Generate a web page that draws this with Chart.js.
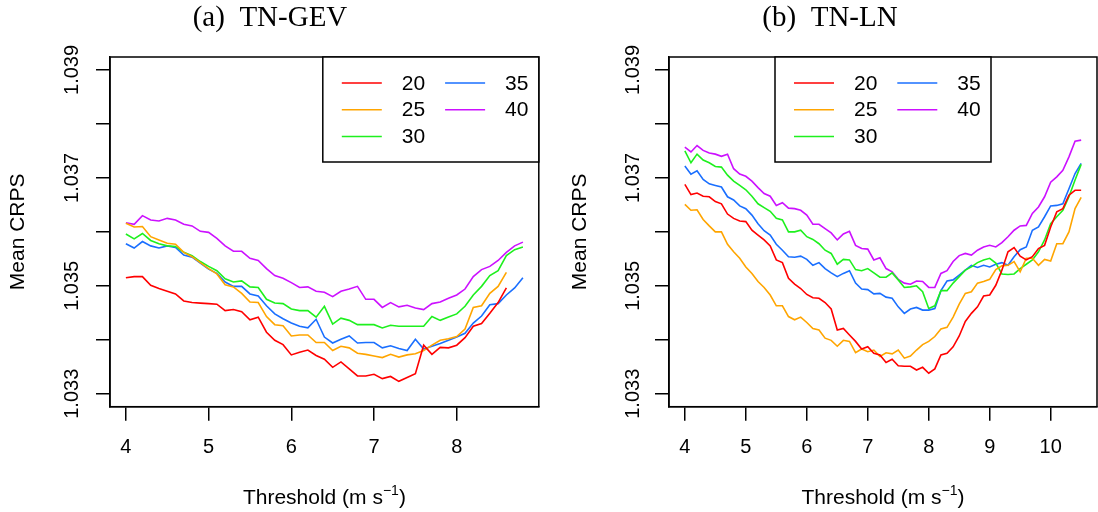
<!DOCTYPE html>
<html>
<head>
<meta charset="utf-8">
<title>Mean CRPS by threshold</title>
<script src="https://cdn.jsdelivr.net/npm/chart.js@4.4.1/dist/chart.umd.min.js"></script>
<style>
  html, body { margin: 0; padding: 0; background: #fff; }
  #wrap { position: relative; width: 1098px; height: 512px; }
  #wrap canvas { position: absolute; top: 0; }
</style>
</head>
<body>
<div id="wrap">
  <canvas id="gev" width="549" height="512" style="left:0"></canvas>
  <canvas id="ln" width="549" height="512" style="left:549px"></canvas>
</div>
<script>
// thresholds (m/s) shared by both panels
const thresholds = [
  4.0, 4.1, 4.2, 4.3, 4.4, 4.5, 4.6, 4.7, 4.8, 4.9,
  5.0, 5.1, 5.2, 5.3, 5.4, 5.5, 5.6, 5.7, 5.8, 5.9,
  6.0, 6.1, 6.2, 6.3, 6.4, 6.5, 6.6, 6.7, 6.8, 6.9,
  7.0, 7.1, 7.2, 7.3, 7.4, 7.5, 7.6, 7.7, 7.8, 7.9,
  8.0, 8.1, 8.2, 8.3, 8.4, 8.5, 8.6, 8.7, 8.8, 8.9,
  9.0, 9.1, 9.2, 9.3, 9.4, 9.5, 9.6, 9.7, 9.8, 9.9,
  10.0, 10.1, 10.2, 10.3, 10.4, 10.5
];
const seriesNames = ['20', '25', '30', '35', '40'];
const seriesColours = ['#ff0000', '#ffa500', '#1ef01e', '#1a6fff', '#cc11ff'];
const yLimits = [1.033, 1.039];
const yTicks = [1.033, 1.034, 1.035, 1.036, 1.037, 1.038, 1.039];
const yLabelled = [1.033, 1.035, 1.037, 1.039];
const xTicksGev = [4, 5, 6, 7, 8];
const xTicksLn = [4, 5, 6, 7, 8, 9, 10];

// (a) TN-GEV
const gev20 = [
  1.03515, 1.03517, 1.03517, 1.03501, 1.03495, 1.03490, 1.03485, 1.03472, 1.03469, 1.03468,
  1.03467, 1.03466, 1.03454, 1.03456, 1.03452, 1.03437, 1.03442, 1.03414, 1.03399, 1.03391,
  1.03372, 1.03377, 1.03381, 1.03371, 1.03364, 1.03349, 1.03359, 1.03346, 1.03333, 1.03333,
  1.03336, 1.03328, 1.03332, 1.03323, 1.03330, 1.03337, 1.03390, 1.03373, 1.03386, 1.03385,
  1.03390, 1.03404, 1.03425, 1.03430, 1.03449, 1.03469, 1.03496
];
const gev25 = [
  1.03616, 1.03609, 1.03610, 1.03591, 1.03585, 1.03579, 1.03577, 1.03562, 1.03554, 1.03543,
  1.03532, 1.03522, 1.03502, 1.03498, 1.03486, 1.03470, 1.03469, 1.03443, 1.03428, 1.03426,
  1.03407, 1.03409, 1.03409, 1.03395, 1.03395, 1.03380, 1.03388, 1.03385, 1.03375, 1.03373,
  1.03370, 1.03367, 1.03373, 1.03368, 1.03372, 1.03374, 1.03380, 1.03390, 1.03399, 1.03402,
  1.03406, 1.03420, 1.03460, 1.03463, 1.03486, 1.03499, 1.03525
];
const gev30 = [
  1.03596, 1.03587, 1.03597, 1.03584, 1.03578, 1.03574, 1.03573, 1.03562, 1.03556, 1.03545,
  1.03536, 1.03528, 1.03513, 1.03507, 1.03509, 1.03498, 1.03497, 1.03475, 1.03468, 1.03467,
  1.03457, 1.03454, 1.03454, 1.03442, 1.03462, 1.03429, 1.03440, 1.03436, 1.03428, 1.03428,
  1.03428, 1.03422, 1.03427, 1.03425, 1.03425, 1.03425, 1.03425, 1.03443, 1.03436, 1.03442,
  1.03448, 1.03462, 1.03483, 1.03499, 1.03519, 1.03528, 1.03556, 1.03567, 1.03572
];
const gev35 = [
  1.03578, 1.03570, 1.03582, 1.03574, 1.03570, 1.03574, 1.03571, 1.03557, 1.03553, 1.03542,
  1.03531, 1.03523, 1.03507, 1.03499, 1.03499, 1.03485, 1.03481, 1.03463, 1.03448, 1.03439,
  1.03431, 1.03425, 1.03422, 1.03438, 1.03405, 1.03394, 1.03401, 1.03407, 1.03394, 1.03395,
  1.03395, 1.03385, 1.03389, 1.03384, 1.03380, 1.03401, 1.03383, 1.03388, 1.03393, 1.03399,
  1.03405, 1.03412, 1.03431, 1.03444, 1.03465, 1.03467, 1.03483, 1.03496, 1.03515
];
const gev40 = [
  1.03617, 1.03614, 1.03630, 1.03622, 1.03620, 1.03625, 1.03622, 1.03614, 1.03611, 1.03601,
  1.03599, 1.03588, 1.03574, 1.03564, 1.03564, 1.03551, 1.03547, 1.03532, 1.03519, 1.03514,
  1.03506, 1.03497, 1.03498, 1.03490, 1.03488, 1.03480, 1.03490, 1.03494, 1.03499, 1.03475,
  1.03475, 1.03460, 1.03469, 1.03461, 1.03464, 1.03459, 1.03456, 1.03467, 1.03470, 1.03477,
  1.03483, 1.03494, 1.03517, 1.03530, 1.03536, 1.03547, 1.03562, 1.03574, 1.03581
];

// (b) TN-LN
const ln20 = [
  1.03688, 1.03669, 1.03672, 1.03666, 1.03665, 1.03656, 1.03652, 1.03633, 1.03625, 1.03620,
  1.03619, 1.03603, 1.03594, 1.03585, 1.03574, 1.03548, 1.03543, 1.03514, 1.03503, 1.03495,
  1.03484, 1.03478, 1.03477, 1.03469, 1.03457, 1.03418, 1.03421, 1.03409, 1.03397, 1.03383,
  1.03387, 1.03375, 1.03372, 1.03358, 1.03364, 1.03352, 1.03351, 1.03351, 1.03344, 1.03349,
  1.03338, 1.03346, 1.03372, 1.03375, 1.03387, 1.03407, 1.03434, 1.03449, 1.03461, 1.03481,
  1.03483, 1.03501, 1.03529, 1.03563, 1.03571, 1.03555, 1.03548, 1.03554, 1.03569, 1.03575,
  1.03609, 1.03637, 1.03643, 1.03668, 1.03677, 1.03677
];
const ln25 = [
  1.03651, 1.03640, 1.03641, 1.03623, 1.03611, 1.03600, 1.03600, 1.03577, 1.03563, 1.03551,
  1.03535, 1.03523, 1.03508, 1.03497, 1.03483, 1.03463, 1.03463, 1.03443, 1.03437, 1.03442,
  1.03432, 1.03421, 1.03418, 1.03403, 1.03399, 1.03388, 1.03399, 1.03397, 1.03376, 1.03383,
  1.03378, 1.03381, 1.03369, 1.03376, 1.03374, 1.03381, 1.03366, 1.03370, 1.03381, 1.03391,
  1.03397, 1.03406, 1.03420, 1.03423, 1.03442, 1.03466, 1.03486, 1.03489, 1.03505, 1.03508,
  1.03512, 1.03530, 1.03537, 1.03538, 1.03545, 1.03526, 1.03551, 1.03551, 1.03538, 1.03549,
  1.03546, 1.03578, 1.03578, 1.03600, 1.03643, 1.03664
];
const ln30 = [
  1.03750, 1.03728, 1.03744, 1.03733, 1.03728, 1.03721, 1.03720, 1.03705, 1.03694, 1.03686,
  1.03678, 1.03666, 1.03652, 1.03645, 1.03638, 1.03625, 1.03622, 1.03600, 1.03600, 1.03603,
  1.03591, 1.03586, 1.03578, 1.03566, 1.03560, 1.03540, 1.03549, 1.03548, 1.03530, 1.03528,
  1.03532, 1.03524, 1.03516, 1.03516, 1.03524, 1.03511, 1.03497, 1.03498, 1.03500, 1.03489,
  1.03458, 1.03463, 1.03491, 1.03491, 1.03505, 1.03517, 1.03529, 1.03535, 1.03543, 1.03548,
  1.03551, 1.03542, 1.03522, 1.03521, 1.03522, 1.03532, 1.03540, 1.03548, 1.03563, 1.03585,
  1.03615, 1.03628, 1.03640, 1.03665, 1.03696, 1.03725
];
const ln35 = [
  1.03722, 1.03707, 1.03713, 1.03697, 1.03689, 1.03686, 1.03683, 1.03665, 1.03659, 1.03648,
  1.03643, 1.03631, 1.03615, 1.03602, 1.03594, 1.03577, 1.03566, 1.03554, 1.03553, 1.03555,
  1.03549, 1.03538, 1.03543, 1.03532, 1.03524, 1.03517, 1.03523, 1.03528, 1.03505, 1.03494,
  1.03493, 1.03485, 1.03486, 1.03479, 1.03477, 1.03461, 1.03449, 1.03457, 1.03460, 1.03455,
  1.03455, 1.03458, 1.03491, 1.03509, 1.03511, 1.03520, 1.03529, 1.03538, 1.03534, 1.03538,
  1.03535, 1.03540, 1.03543, 1.03538, 1.03554, 1.03567, 1.03572, 1.03603, 1.03609, 1.03628,
  1.03648, 1.03649, 1.03652, 1.03680, 1.03708, 1.03727
];
const ln40 = [
  1.03757, 1.03748, 1.03760, 1.03751, 1.03746, 1.03744, 1.03740, 1.03744, 1.03717, 1.03707,
  1.03703, 1.03694, 1.03682, 1.03671, 1.03666, 1.03649, 1.03654, 1.03644, 1.03643, 1.03640,
  1.03631, 1.03614, 1.03614, 1.03606, 1.03598, 1.03585, 1.03596, 1.03601, 1.03575, 1.03569,
  1.03568, 1.03548, 1.03552, 1.03532, 1.03526, 1.03512, 1.03505, 1.03503, 1.03509, 1.03508,
  1.03497, 1.03497, 1.03523, 1.03528, 1.03545, 1.03556, 1.03560, 1.03557, 1.03566, 1.03572,
  1.03575, 1.03572, 1.03580, 1.03591, 1.03603, 1.03611, 1.03612, 1.03634, 1.03646, 1.03665,
  1.03692, 1.03702, 1.03714, 1.03739, 1.03768, 1.03770
];

const SANS = '"Liberation Sans", Arial, Helvetica, sans-serif';
const SERIF = '"Liberation Serif", "Times New Roman", serif';

// R-style frame, rotated y labels, titles and boxed legend
const decorations = {
  id: 'decorations',
  afterDraw(chart, args, o) {
    const { ctx, chartArea: a } = chart;
    const ys = chart.scales.y;
    ctx.save();
    ctx.strokeStyle = '#000';
    ctx.lineWidth = 1.5;
    ctx.strokeRect(a.left, a.top, a.right - a.left, a.bottom - a.top);

    ctx.fillStyle = '#000';
    ctx.textAlign = 'center';
    ctx.textBaseline = 'middle';
    ctx.font = '20px ' + SANS;
    yLabelled.forEach(v => {
      ctx.save();
      ctx.translate(a.left - o.yLabelGap, ys.getPixelForValue(v));
      ctx.rotate(-Math.PI / 2);
      ctx.fillText(v.toFixed(3), 0, 0);
      ctx.restore();
    });

    ctx.font = '21px ' + SANS;
    ctx.save();
    ctx.translate(a.left - o.yTitleGap, (a.top + a.bottom) / 2);
    ctx.rotate(-Math.PI / 2);
    ctx.fillText('Mean CRPS', 0, 0);
    ctx.restore();

    // x title with superscript unit
    const main = 'Threshold (m s', sup = '\u22121', tail = ')';
    ctx.textBaseline = 'alphabetic';
    ctx.textAlign = 'left';
    ctx.font = '21px ' + SANS;
    const w1 = ctx.measureText(main).width, w3 = ctx.measureText(tail).width;
    ctx.font = '14px ' + SANS;
    const w2 = ctx.measureText(sup).width;
    let x = (a.left + a.right) / 2 - (w1 + w2 + w3) / 2;
    const base = 504;
    ctx.font = '21px ' + SANS;
    ctx.fillText(main, x, base);
    ctx.font = '14px ' + SANS;
    ctx.fillText(sup, x + w1, base - 9);
    ctx.font = '21px ' + SANS;
    ctx.fillText(tail, x + w1 + w2, base);

    ctx.textAlign = 'center';
    ctx.font = '29px ' + SERIF;
    ctx.fillText(o.title, o.titleX, 26);

    // legend box
    const lw = 216, lh = 105;
    const lx = o.legendPos === 'topright' ? a.right - lw : (a.left + a.right) / 2 - lw / 2;
    const ly = a.top;
    ctx.fillStyle = '#fff';
    ctx.fillRect(lx, ly, lw, lh);
    ctx.strokeStyle = '#000';
    ctx.lineWidth = 1.5;
    ctx.strokeRect(lx, ly, lw, lh);
    ctx.font = '21px ' + SANS;
    ctx.textBaseline = 'middle';
    ctx.textAlign = 'left';
    chart.data.datasets.forEach((ds, i) => {
      const col = i < 3 ? 0 : 1, row = i < 3 ? i : i - 3;
      const cx = lx + 19 + col * 103.3;
      const cy = ly + 26 + row * 26.7;
      ctx.strokeStyle = ds.borderColor;
      ctx.lineWidth = 1.5;
      ctx.beginPath();
      ctx.moveTo(cx, cy);
      ctx.lineTo(cx + 40, cy);
      ctx.stroke();
      ctx.fillStyle = '#000';
      ctx.fillText(ds.label, cx + 60, cy + 1);
    });
    ctx.restore();
  }
};

function makePanel(id, series, xTicks, opts) {
  const lastX = thresholds[Math.max(...series.map(s => s.length)) - 1];
  const xPad = 0.04 * (lastX - thresholds[0]);
  const yPad = 0.04 * (yLimits[1] - yLimits[0]);
  return new Chart(document.getElementById(id), {
    type: 'line',
    data: {
      datasets: series.map((s, i) => ({
        label: seriesNames[i],
        data: s.map((v, j) => ({ x: thresholds[j], y: v })),
        borderColor: seriesColours[i],
        borderWidth: 1.6,
        pointRadius: 0,
        tension: 0,
        fill: false
      }))
    },
    options: {
      responsive: false,
      animation: false,
      devicePixelRatio: 1,
      layout: { padding: { left: 0, top: 57, right: opts.padRight, bottom: 0 } },
      plugins: {
        legend: { display: false },
        tooltip: { enabled: false },
        decorations: opts
      },
      scales: {
        x: {
          type: 'linear',
          min: thresholds[0] - xPad,
          max: lastX + xPad,
          afterBuildTicks: s => { s.ticks = xTicks.map(v => ({ value: v })); },
          afterFit: s => { s.height = 105.3; },
          grid: { drawOnChartArea: false, drawTicks: true, tickLength: 14, color: '#000', lineWidth: 1.5 },
          border: { display: true, color: '#000', width: 1.5 },
          ticks: { color: '#000', font: { family: SANS, size: 20 }, padding: 15, maxRotation: 0, autoSkip: false }
        },
        y: {
          type: 'linear',
          min: yLimits[0] - yPad,
          max: yLimits[1] + yPad,
          afterBuildTicks: s => { s.ticks = yTicks.map(v => ({ value: v })); },
          afterFit: s => { s.width = opts.left; },
          grid: { drawOnChartArea: false, drawTicks: true, tickLength: 14, color: '#000', lineWidth: 1.5 },
          border: { display: true, color: '#000', width: 1.5 },
          ticks: { display: false }
        }
      }
    },
    plugins: [decorations]
  });
}

makePanel('gev', [gev20, gev25, gev30, gev35, gev40], xTicksGev, {
  title: '(a)  TN-GEV', titleX: 270, left: 110, padRight: 10.2,
  yLabelGap: 38, yTitleGap: 92, legendPos: 'topright'
});
makePanel('ln', [ln20, ln25, ln30, ln35, ln40], xTicksLn, {
  title: '(b)  TN-LN', titleX: 281, left: 120, padRight: 1,
  yLabelGap: 36, yTitleGap: 89, legendPos: 'top'
});
</script>
</body>
</html>
